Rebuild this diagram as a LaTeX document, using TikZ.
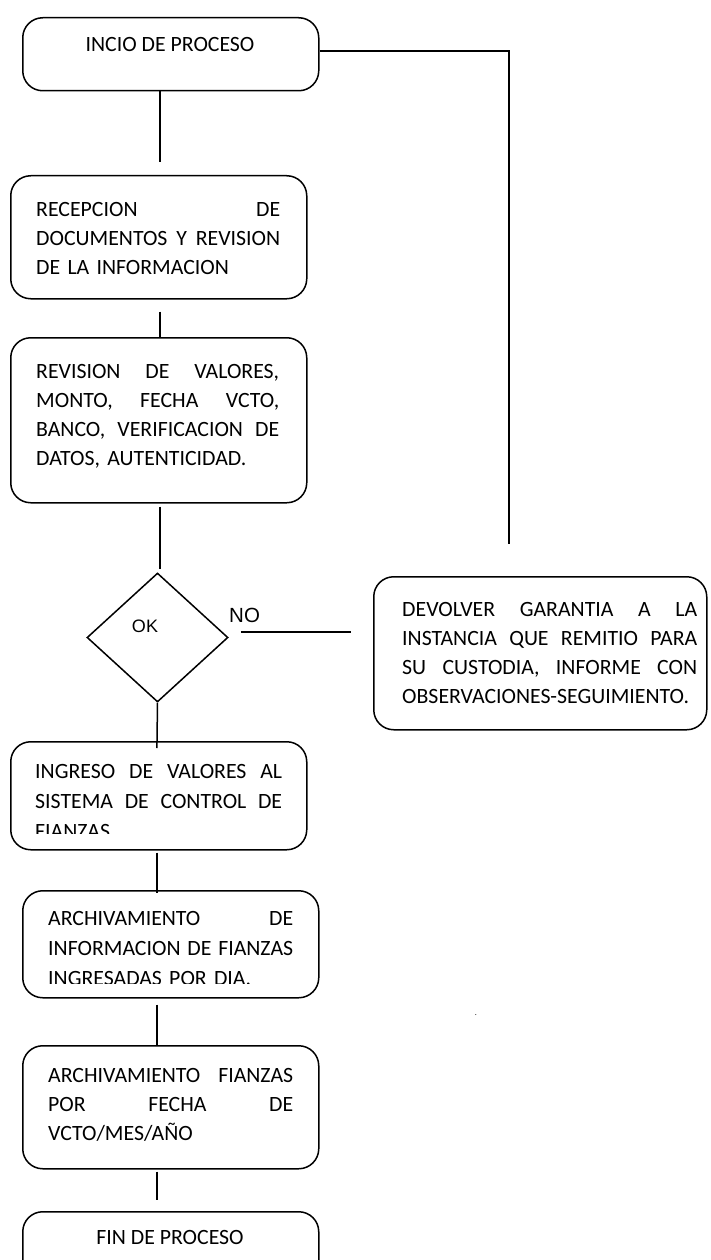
\documentclass[tikz,border=0pt]{standalone}
\usepackage{fontspec}
\setmainfont{Carlito}
\newfontfamily\arialfont{Liberation Sans}
\usetikzlibrary{shapes.geometric}
\begin{document}
\begin{tikzpicture}[x=1pt,y=-1pt,
  box/.style={draw, rounded corners=20pt, line width=1.5pt, inner sep=0pt, anchor=north west},
  lbl/.style={anchor=base west, inner sep=0pt, font=\fontsize{21.8}{29}\selectfont, align=left},
  ctr/.style={anchor=base, inner sep=0pt, font=\fontsize{21.8}{29}\selectfont},
  conn/.style={line width=1.5pt}]
\useasboundingbox (0,0) rectangle (710,1260);
% boxes
\node[box, minimum width=296pt, minimum height=73pt] (b1) at (22,17) {};
\node[box, minimum width=296pt, minimum height=123pt] (b2) at (10,175) {};
\node[box, minimum width=296pt, minimum height=165pt] (b3) at (10,337) {};
\node[box, minimum width=333pt, minimum height=153pt] (b4) at (373,576) {};
\node[box, minimum width=296pt, minimum height=108pt] (b5) at (10,741) {};
\node[box, minimum width=296pt, minimum height=107pt] (b6) at (22,890) {};
\node[box, minimum width=296pt, minimum height=123pt] (b7) at (22,1045) {};
\node[box, minimum width=296pt, minimum height=100pt] (b8) at (22,1211) {};
\node[draw, shape=diamond, line width=1.5pt, inner sep=0pt, minimum width=141pt, minimum height=129pt] (d) at (157.5,637.5) {};
% texts
\node[ctr] (t1) at (170,52) {INCIO DE PROCESO};
\node[lbl, text width=244pt] (t2) at (36,216) {RECEPCION\hfill DE\\DOCUMENTOS\hfill Y\hfill REVISION\\DE LA INFORMACION};
\node[lbl, text width=243pt] (t3) at (36,378) {REVISION\hfill DE\hfill VALORES,\\MONTO,\hfill FECHA\hfill VCTO,\\BANCO,\hfill VERIFICACION\hfill DE\\DATOS, AUTENTICIDAD.};
\node[lbl, text width=295pt] (t4) at (402,616) {DEVOLVER\hfill GARANTIA\hfill A\hfill LA\\INSTANCIA\hfill QUE\hfill REMITIO\hfill PARA\\SU\hfill CUSTODIA,\hfill INFORME\hfill CON\\OBSERVACIONES-SEGUIMIENTO.};
\begin{scope}
\clip (0,700) rectangle (710,833);
\node[lbl, text width=247pt, font=\fontsize{21.8}{30}\selectfont] (t5) at (35,778) {INGRESO\hfill DE\hfill VALORES\hfill AL\\SISTEMA\hfill DE\hfill CONTROL\hfill DE\\FIANZAS.};
\end{scope}
\begin{scope}
\clip (0,880) rectangle (710,983);
\node[lbl, text width=245pt, font=\fontsize{21.8}{30}\selectfont] (t6) at (48,925) {ARCHIVAMIENTO\hfill DE\\INFORMACION\hfill DE\hfill FIANZAS\\INGRESADAS POR DIA.};
\end{scope}
\node[lbl, text width=245pt] (t7) at (48,1082) {ARCHIVAMIENTO\hfill FIANZAS\\POR\hfill FECHA\hfill DE\\VCTO/MES/AÑO};
\node[ctr] (t8) at (170,1244) {FIN DE PROCESO};
\node[anchor=base, inner sep=0pt, font=\arialfont\fontsize{18}{20}\selectfont] (ok) at (145,632) {OK};
\node[anchor=base west, inner sep=0pt, font=\arialfont\fontsize{20.5}{24}\selectfont] (no) at (229,622) {NO};
\node[anchor=base, inner sep=0pt, font=\fontsize{8}{10}\selectfont] (dot) at (476,1015) {.};
% connectors
\coordinate (xa) at (160,0);
\coordinate (xb) at (157,0);
\coordinate (xr) at (509,0);
\coordinate (yr) at (0,51);
\coordinate (yno) at (0,632);
\draw[conn, shorten >=13pt] (b1.south -| xa) -- (b2.north -| xa);
\draw[conn, shorten <=12pt] (b2.south -| xa) -- (b3.north -| xa);
\draw[conn, shorten <=3pt, shorten >=3pt] (b3.south -| xa) -- (d.north -| xa);
\draw[conn, shorten >=-7pt] (d.south) -- (b5.north -| xb);
\draw[conn, shorten <=2pt, shorten >=-3pt] (b5.south -| xb) -- (b6.north -| xb);
\draw[conn, shorten <=6pt] (b6.south -| xb) -- (b7.north -| xb);
\draw[conn, shorten <=2pt, shorten >=11pt] (b7.south -| xb) -- (b8.north -| xb);
\draw[conn, shorten <=12pt, shorten >=22pt] (d.east |- yno) -- (b4.west |- yno);
\draw[conn, shorten >=32pt] (b1.east |- yr) -| (b4.north -| xr);
\end{tikzpicture}
\end{document}
